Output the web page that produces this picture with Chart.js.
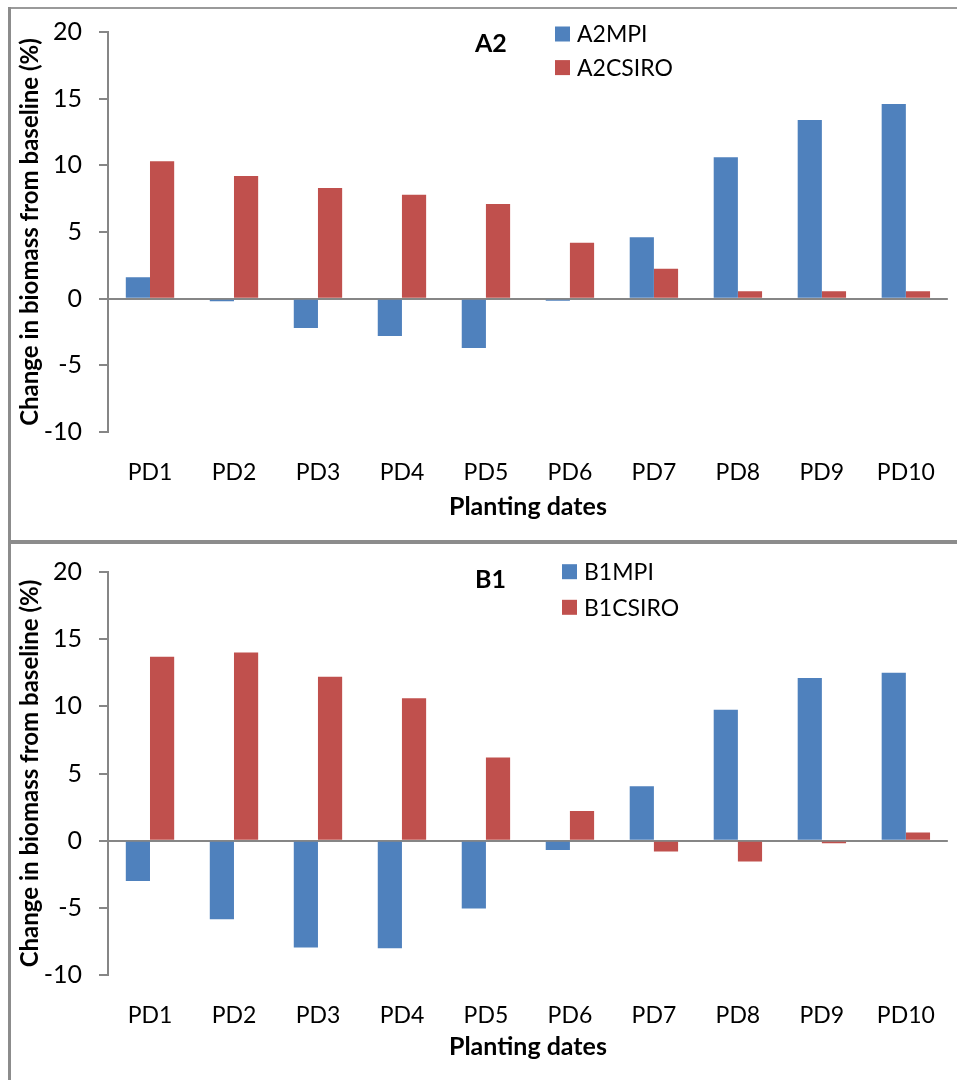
<!DOCTYPE html>
<html>
<head>
<meta charset="utf-8">
<script src="https://cdn.jsdelivr.net/npm/chart.js@4.4.0/dist/chart.umd.min.js"></script>
<style>
  html, body { margin: 0; padding: 0; background: #fff; overflow: hidden; }
  body { width: 957px; height: 1080px; position: relative; }
  .line { position: absolute; background: #8c8c8c; }
  .box { position: absolute; left: 0; width: 962px; height: 540px; }
</style>
</head>
<body>
<!-- panel frames -->
<div class="line" style="left:8px; top:7px; width:949px; height:2px; background:#9a9a9a;"></div>
<div class="line" style="left:8px; top:7px; width:3px; height:535px;"></div>
<div class="line" style="left:8px; top:540px; width:949px; height:4px;"></div>
<div class="line" style="left:8px; top:540px; width:3px; height:540px;"></div>

<div class="box" style="top:0;"><canvas id="chartA2"></canvas></div>
<div class="box" style="top:540px;"><canvas id="chartB1"></canvas></div>

<script>
// categories
const plantingDates = ["PD1", "PD2", "PD3", "PD4", "PD5", "PD6", "PD7", "PD8", "PD9", "PD10"];

// A2 scenario
const a2MPI   = [1.6, -0.2, -2.2, -2.8, -3.7, -0.15, 4.6, 10.6, 13.4, 14.6];
const a2CSIRO = [10.3, 9.2, 8.3, 7.8, 7.1, 4.2, 2.25, 0.55, 0.55, 0.55];

// B1 scenario
const b1MPI   = [-3.0, -5.85, -7.95, -8.0, -5.05, -0.7, 4.05, 9.75, 12.1, 12.5];
const b1CSIRO = [13.7, 14.0, 12.2, 10.6, 6.2, 2.2, -0.8, -1.55, -0.2, 0.6];

// y axis
const yMin = -10, yMax = 20, yStep = 5;

const BLUE = "#4f81bd";
const RED = "#c0504d";
const AXIS = "#868686";

Chart.defaults.font.family = "Lato, 'DejaVu Sans', sans-serif";
Chart.defaults.color = "#000";

// panel label ("A2"/"B1") and legend drawn inside the plot
const panelText = {
  id: "panelText",
  afterDraw(chart, args, opts) {
    const ctx = chart.ctx;
    ctx.save();
    ctx.textBaseline = "middle";
    ctx.fillStyle = "#000";
    ctx.font = "bold 25px Lato";
    ctx.fillText(opts.label, opts.labelX, opts.labelY);
    ctx.font = "23px Lato";
    chart.data.datasets.forEach((ds, i) => {
      const y = opts.legendY + i * opts.legendGap;
      ctx.fillStyle = ds.backgroundColor;
      ctx.fillRect(opts.legendX, y - 7.5, 15, 15);
      ctx.fillStyle = "#000";
      ctx.fillText(ds.label, opts.legendX + 22, y + 1);
    });
    ctx.restore();
  }
};

function makeChart(id, names, series, txt, padTop) {
  const ctx = document.getElementById(id).getContext("2d");
  const config = {
    type: "bar",
    data: {
      labels: plantingDates,
      datasets: [
        { label: names[0], data: series[0], backgroundColor: BLUE },
        { label: names[1], data: series[1], backgroundColor: RED }
      ]
    },
    options: {
      responsive: true,
      maintainAspectRatio: false,
      animation: false,
      datasets: { bar: { categoryPercentage: 0.576, barPercentage: 1.0 } },
      layout: { padding: { top: padTop, right: 3, left: 0, bottom: 0 } },
      plugins: {
        legend: { display: false },
        tooltip: { enabled: false },
        panelText: txt
      },
      scales: {
        x: {
          grid: { display: false, drawTicks: false },
          border: { display: false },
          ticks: { font: { size: 23 }, padding: 27, maxRotation: 0, autoSkip: false },
          title: {
            display: true,
            text: "Planting dates",
            font: { size: 25, weight: "bold" },
            padding: { top: 0, bottom: 18 }
          },
          afterFit: (s) => { s.height = 540 - padTop - txt.plotH; }
        },
        y: {
          min: yMin,
          max: yMax,
          ticks: { stepSize: yStep, font: { size: 25 }, padding: 17 },
          grid: {
            drawOnChartArea: true,
            color: (c) => (c.tick && c.tick.value === 0 ? AXIS : "rgba(0,0,0,0)"),
            tickColor: AXIS,
            tickLength: 9,
            lineWidth: 2
          },
          border: { display: true, color: AXIS, width: 2 },
          title: {
            display: true,
            text: "Change in biomass from baseline (%)",
            font: { size: 24, weight: "bold" },
            padding: { top: 16, bottom: 0 }
          },
          afterFit: (s) => { s.width = 108; }
        }
      }
    },
    plugins: [panelText]
  };
  return new Chart(ctx, config);
}

document.fonts.load("22px Lato").then(() => document.fonts.load("bold 22px Lato")).finally(() => {
  makeChart("chartA2", ["A2MPI", "A2CSIRO"], [a2MPI, a2CSIRO],
    { label: "A2", labelX: 475, labelY: 44, legendX: 555, legendY: 34, legendGap: 33.6, plotH: 406 }, 26);
  makeChart("chartB1", ["B1MPI", "B1CSIRO"], [b1MPI, b1CSIRO],
    { label: "B1", labelX: 475, labelY: 40, legendX: 562, legendY: 31.7, legendGap: 35.6, plotH: 416 }, 19);
});
</script>
</body>
</html>
